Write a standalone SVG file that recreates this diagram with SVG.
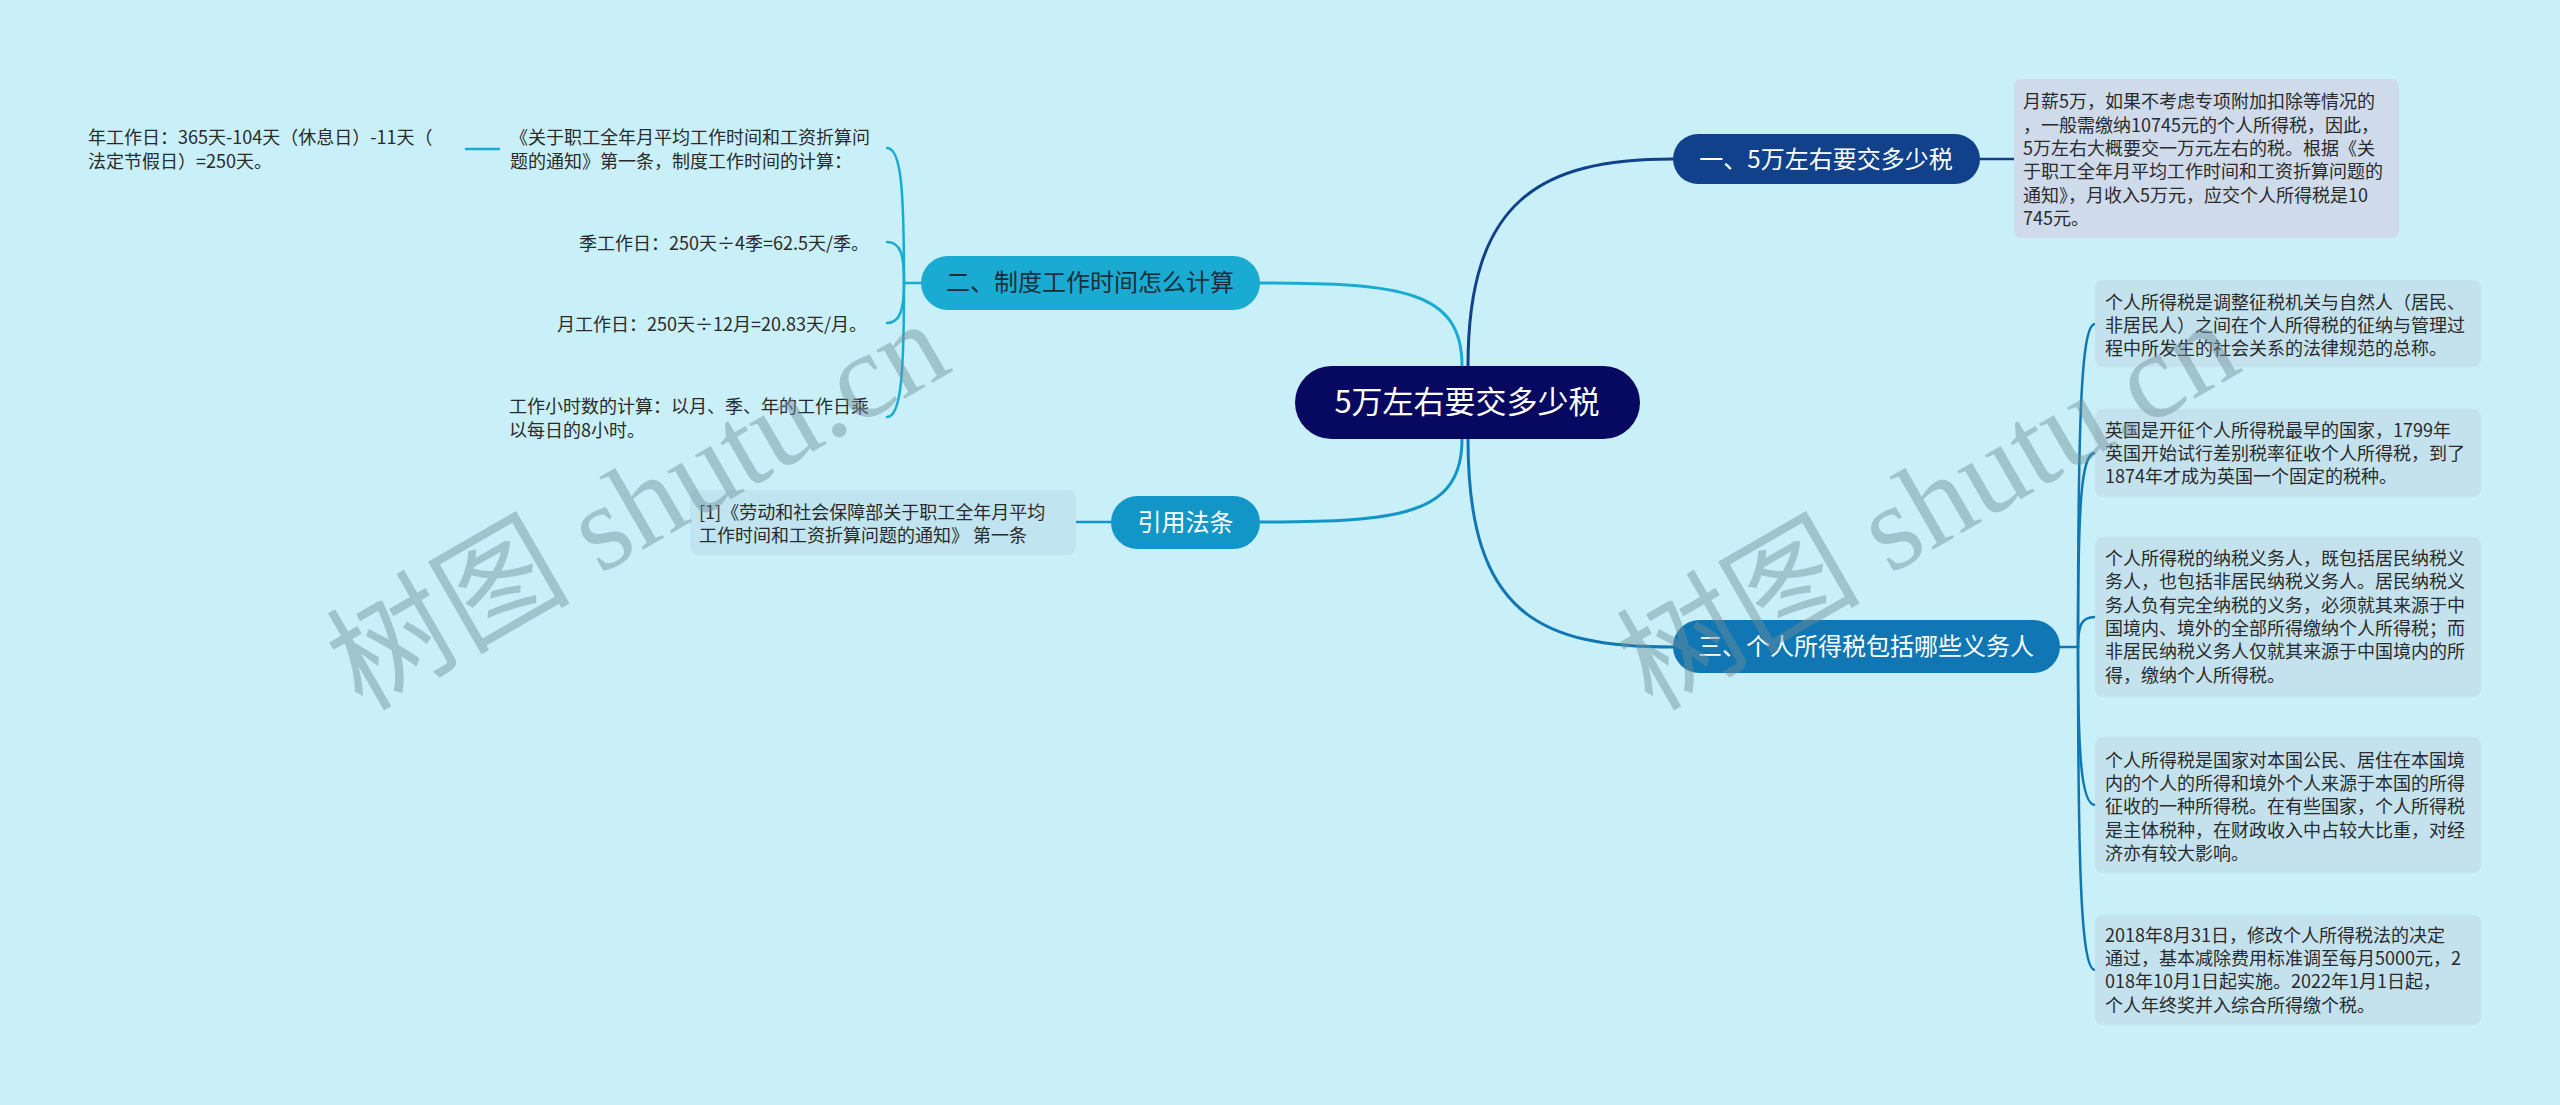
<svg xmlns="http://www.w3.org/2000/svg" width="2560" height="1105" viewBox="0 0 2560 1105">
<style>
.t{font-family:"Noto Sans CJK SC","Liberation Sans",sans-serif;font-size:18px;fill:#2a2a2a}
.nt{font-family:"Noto Sans CJK SC","Liberation Sans",sans-serif;font-size:24px;fill:#ffffff;text-anchor:middle}
.c{fill:none;stroke-width:3;stroke-linecap:round}
.s{fill:none;stroke-width:2.5;stroke-linecap:round}
.wm{font-family:"Liberation Serif","Noto Sans CJK SC",serif;font-size:122px;fill:#6f8f99;opacity:0.45}
</style>
<rect x="0" y="0" width="2560" height="1105" fill="#c9f0f8"/>
<g id="connectors">
<path class="c" stroke="#10418a" d="M1468,366 C1468,200 1540,159 1673,159"/>
<path class="c" stroke="#1077b4" d="M1468,439 C1468,615 1540,647 1673,647"/>
<path class="c" stroke="#1aabd3" d="M1462,366 C1462,290 1400,283 1260,283"/>
<path class="c" stroke="#1296c8" d="M1462,439 C1462,515 1400,522 1260,522"/>
<path class="s" stroke="#10418a" d="M1980,159 H2014"/>
<path class="s" stroke="#1296c8" d="M1111,522 H1076"/>
<path class="s" stroke="#1077b4" d="M2060,647 H2078"/>
<path class="s" stroke="#1077b4" d="M2078,647 C2078,421 2081,324 2095,324"/>
<path class="s" stroke="#1077b4" d="M2078,647 C2078,505 2081,453 2095,453"/>
<path class="s" stroke="#1077b4" d="M2078,647 C2078,626 2081,617 2095,617"/>
<path class="s" stroke="#1077b4" d="M2078,647 C2078,753 2081,805 2095,805"/>
<path class="s" stroke="#1077b4" d="M2078,647 C2078,870 2081,970 2095,970"/>
<path class="s" stroke="#1aabd3" d="M921,283 H904"/>
<path class="s" stroke="#1aabd3" d="M904,283 C904,188 901,148 887,148"/>
<path class="s" stroke="#1aabd3" d="M904,283 C904,255 901,242 887,242"/>
<path class="s" stroke="#1aabd3" d="M904,283 C904,307 901,323 887,323"/>
<path class="s" stroke="#1aabd3" d="M904,283 C904,375 901,417 887,417"/>
<path class="s" stroke="#1aabd3" d="M466,149 H499"/>
</g>
<g id="center">
<rect x="1295" y="366" width="345" height="73" rx="36.5" fill="#06095f"/>
<text class="nt" x="1467" y="413" style="font-size:31px">5万左右要交多少税</text>
</g>
<g id="n1">
<rect x="1673" y="134" width="307" height="50" rx="25" fill="#10418a"/>
<text class="nt" x="1826" y="167.5">一、5万左右要交多少税</text>
</g>
<g id="n1-text">
<rect x="2014" y="79" width="385" height="159" rx="7" fill="#cfdbea"/>
<text class="t"><tspan x="2023" y="108">月薪5万，如果不考虑专项附加扣除等情况的</tspan><tspan x="2023" y="131.5">，一般需缴纳10745元的个人所得税，因此，</tspan><tspan x="2023" y="155">5万左右大概要交一万元左右的税。根据《关</tspan><tspan x="2023" y="178">于职工全年月平均工作时间和工资折算问题的</tspan><tspan x="2023" y="201.5">通知》，月收入5万元，应交个人所得税是10</tspan><tspan x="2023" y="225">745元。</tspan></text>
</g>
<g id="n3">
<rect x="1673" y="620" width="387" height="53" rx="26.5" fill="#1077b4"/>
<text class="nt" x="1866" y="655">三、个人所得税包括哪些义务人</text>
</g>
<g id="n3-a">
<rect x="2095" y="280" width="386" height="87" rx="8" fill="#c4e2ee"/>
<text class="t"><tspan x="2105" y="308.5">个人所得税是调整征税机关与自然人（居民、</tspan><tspan x="2105" y="331.5">非居民人）之间在个人所得税的征纳与管理过</tspan><tspan x="2105" y="354.5">程中所发生的社会关系的法律规范的总称。</tspan></text>
</g>
<g id="n3-b">
<rect x="2095" y="409" width="386" height="88" rx="8" fill="#c4e2ee"/>
<text class="t"><tspan x="2105" y="436.5">英国是开征个人所得税最早的国家，1799年</tspan><tspan x="2105" y="459.5">英国开始试行差别税率征收个人所得税，到了</tspan><tspan x="2105" y="483">1874年才成为英国一个固定的税种。</tspan></text>
</g>
<g id="n3-c">
<rect x="2095" y="537" width="386" height="160" rx="8" fill="#c4e2ee"/>
<text class="t"><tspan x="2105" y="564.5">个人所得税的纳税义务人，既包括居民纳税义</tspan><tspan x="2105" y="588">务人，也包括非居民纳税义务人。居民纳税义</tspan><tspan x="2105" y="611.5">务人负有完全纳税的义务，必须就其来源于中</tspan><tspan x="2105" y="635">国境内、境外的全部所得缴纳个人所得税；而</tspan><tspan x="2105" y="658">非居民纳税义务人仅就其来源于中国境内的所</tspan><tspan x="2105" y="681.5">得，缴纳个人所得税。</tspan></text>
</g>
<g id="n3-d">
<rect x="2095" y="737" width="386" height="136" rx="8" fill="#c4e2ee"/>
<text class="t"><tspan x="2105" y="766.5">个人所得税是国家对本国公民、居住在本国境</tspan><tspan x="2105" y="790">内的个人的所得和境外个人来源于本国的所得</tspan><tspan x="2105" y="813">征收的一种所得税。在有些国家，个人所得税</tspan><tspan x="2105" y="836.5">是主体税种，在财政收入中占较大比重，对经</tspan><tspan x="2105" y="859.5">济亦有较大影响。</tspan></text>
</g>
<g id="n3-e">
<rect x="2095" y="915" width="386" height="110" rx="8" fill="#c4e2ee"/>
<text class="t"><tspan x="2105" y="941.5">2018年8月31日，修改个人所得税法的决定</tspan><tspan x="2105" y="965">通过，基本减除费用标准调至每月5000元，2</tspan><tspan x="2105" y="988">018年10月1日起实施。2022年1月1日起，</tspan><tspan x="2105" y="1011.5">个人年终奖并入综合所得缴个税。</tspan></text>
</g>
<g id="n2">
<rect x="921" y="256" width="339" height="54" rx="27" fill="#1aabd3"/>
<text class="nt" x="1090" y="291" style="fill:#1b2d3b">二、制度工作时间怎么计算</text>
</g>
<g id="n2-a">
<text class="t"><tspan x="510" y="143.5">《关于职工全年月平均工作时间和工资折算问</tspan><tspan x="510" y="168">题的通知》第一条，制度工作时间的计算：</tspan></text>
</g>
<g id="n2-a-1">
<text class="t"><tspan x="88" y="143.5">年工作日：365天-104天（休息日）-11天（</tspan><tspan x="88" y="168">法定节假日）=250天。</tspan></text>
</g>
<g id="n2-b">
<text class="t" x="579" y="249.5">季工作日：250天÷4季=62.5天/季。</text>
</g>
<g id="n2-c">
<text class="t" x="557" y="330.5">月工作日：250天÷12月=20.83天/月。</text>
</g>
<g id="n2-d">
<text class="t"><tspan x="509" y="412.5">工作小时数的计算：以月、季、年的工作日乘</tspan><tspan x="509" y="436.5">以每日的8小时。</tspan></text>
</g>
<g id="n4">
<rect x="1111" y="496" width="149" height="53" rx="26.5" fill="#1296c8"/>
<text class="nt" x="1185.5" y="531">引用法条</text>
</g>
<g id="n4-a">
<rect x="690" y="490" width="386" height="65" rx="8" fill="#c0e5f0"/>
<text class="t"><tspan x="699" y="518.5">[1]《劳动和社会保障部关于职工全年月平均</tspan><tspan x="699" y="541.5">工作时间和工资折算问题的通知》 第一条</tspan></text>
</g>
<g id="watermark">
<text class="wm" transform="translate(362,712) rotate(-30)">树图 shutu.cn</text>
<text class="wm" transform="translate(1652,712) rotate(-30)">树图 shutu.cn</text>
</g>
</svg>
